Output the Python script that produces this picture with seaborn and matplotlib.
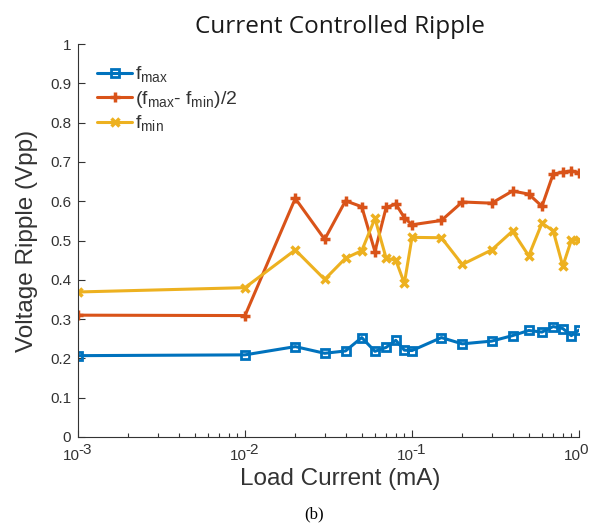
import numpy as np
import pandas as pd
import matplotlib
matplotlib.use("Agg")
import matplotlib.pyplot as plt
import seaborn as sns
from matplotlib.ticker import LogLocator, FixedLocator, FuncFormatter, NullFormatter

load_current = [0.001, 0.01, 0.02, 0.03, 0.04, 0.05, 0.06, 0.07, 0.08, 0.09, 0.1,
                0.15, 0.2, 0.3, 0.4, 0.5, 0.6, 0.7, 0.8, 0.9, 1.0]
f_max = [0.207, 0.209, 0.230, 0.213, 0.219, 0.253, 0.218, 0.228, 0.246, 0.221, 0.220,
         0.253, 0.237, 0.244, 0.258, 0.271, 0.267, 0.281, 0.276, 0.258, 0.272]
f_half = [0.310, 0.309, 0.607, 0.503, 0.601, 0.586, 0.472, 0.584, 0.593, 0.558, 0.540,
          0.551, 0.598, 0.595, 0.626, 0.618, 0.587, 0.669, 0.674, 0.677, 0.673]
f_min = [0.369, 0.380, 0.476, 0.401, 0.455, 0.474, 0.556, 0.455, 0.450, 0.391, 0.508,
         0.507, 0.439, 0.476, 0.524, 0.461, 0.544, 0.525, 0.435, 0.501, 0.501]
labels = [r'f$_{\mathregular{max}}$', r'(f$_{\mathregular{max}}$- f$_{\mathregular{min}}$)/2',
          r'f$_{\mathregular{min}}$']
x_ticks = [1e-3, 1e-2, 1e-1, 1e0]
x_exps = ['-3', '-2', '-1', '0']
colors = ['#0072BD', '#D95319', '#EDB120']

sns.set_style("ticks")
plt.rcParams['font.family'] = ['Liberation Sans', 'DejaVu Sans']
plt.rcParams['mathtext.fontset'] = 'custom'
plt.rcParams['mathtext.rm'] = 'Liberation Sans'

fig = plt.figure(figsize=(5.93, 5.23), dpi=100)
ax = fig.add_axes([78/593, 1-437/523, (579-78)/593, (437-44)/523])

styles = [dict(marker='s', markersize=5.5, markerfacecolor='none', markeredgewidth=2),
          dict(marker='+', markersize=7.5, markeredgewidth=2.5),
          dict(marker='x', markersize=5.5, markeredgewidth=2.5)]
for vals, lab, col, st in zip([f_max, f_half, f_min], labels, colors, styles):
    df = pd.DataFrame({'x': load_current, 'y': vals})
    sns.lineplot(data=df, x='x', y='y', ax=ax, color=col, lw=2.2,
                 markeredgecolor=col, label=lab, **st)

ax.set_xscale('log')
ax.set_xlim(1e-3, 1)
ax.set_ylim(0, 1)
ax.yaxis.set_major_locator(FixedLocator(np.round(np.arange(0, 1.01, 0.1), 1)))
ax.yaxis.set_major_formatter(FuncFormatter(lambda v, p: '0' if v == 0 else ('1' if v == 1 else f'{v:.1f}')))
ax.xaxis.set_major_locator(FixedLocator(x_ticks))
ax.xaxis.set_minor_locator(LogLocator(base=10, subs=np.arange(2, 10), numticks=20))
ax.xaxis.set_major_formatter(NullFormatter())
ax.xaxis.set_minor_formatter(NullFormatter())

tc = '#333333'
ax.tick_params(axis='both', which='both', direction='in', colors=tc, labelsize=11, width=0.8)
ax.tick_params(axis='both', which='major', length=5)
ax.tick_params(axis='x', which='minor', length=3)
ax.tick_params(axis='y', pad=5)
for s in ['top', 'right']:
    ax.spines[s].set_visible(False)
for s in ['left', 'bottom']:
    ax.spines[s].set_color('#333333')
    ax.spines[s].set_linewidth(0.8)

# decade tick labels with full-size superscripts
for xv, ex in zip(x_ticks, x_exps):
    ax.annotate('10', xy=(xv, 0), xycoords=('data', 'axes fraction'),
                xytext=(1, -16.5), textcoords='offset points', ha='right',
                va='baseline', fontsize=11, color=tc, annotation_clip=False)
    ax.annotate(ex, xy=(xv, 0), xycoords=('data', 'axes fraction'),
                xytext=(0.5, -12.5), textcoords='offset points', ha='left',
                va='baseline', fontsize=11, color=tc, annotation_clip=False)

ax.set_xlabel('Load Current (mA)', fontsize=17.5, color=tc)
ax.xaxis.set_label_coords((340-78)/501, (437-468)/393)
ax.set_ylabel('Voltage Ripple (Vpp)', fontsize=17.5, color=tc)
ax.yaxis.set_label_coords((38-78)/501, 0.5)
ax.set_title('Current Controlled Ripple', fontsize=17.5, color='#1a1a1a',
             family=['Open Sans', 'DejaVu Sans'], x=(340-78)/501, y=1.0, pad=8)

leg = ax.legend(loc='upper left', frameon=False, fontsize=14, handlelength=1.8,
                handletextpad=0.15, labelspacing=0.2, borderpad=0, borderaxespad=0,
                bbox_to_anchor=((97-78)/501, (437-65)/393))
for t in leg.get_texts():
    t.set_color(tc)

fig.text(314/593, 1-514/523, '(b)', ha='center', va='center', fontsize=12,
         family=['Liberation Serif', 'DejaVu Serif'], color='black')

fig.savefig('out.png', dpi=100)
